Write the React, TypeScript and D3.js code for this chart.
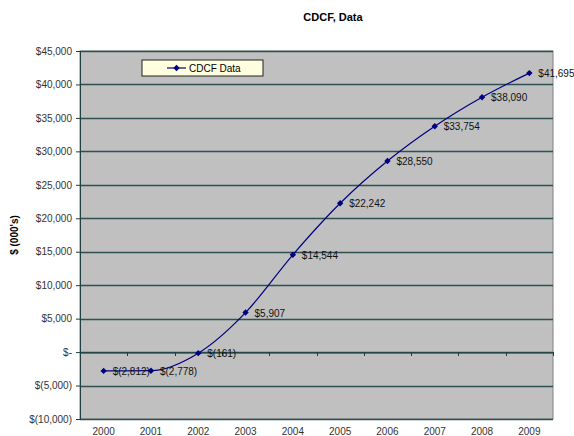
import React, { useEffect, useRef } from "react";
import * as d3 from "d3";

const years = ["2000", "2001", "2002", "2003", "2004", "2005", "2006", "2007", "2008", "2009"];
const cdcf = [-2812, -2778, -161, 5907, 14544, 22242, 28550, 33754, 38090, 41695];
const yTicks = [-10000, -5000, 0, 5000, 10000, 15000, 20000, 25000, 30000, 35000, 40000, 45000];

const money = (v: number) => {
  if (v === 0) return "$-";
  const s = d3.format(",")(Math.abs(v));
  return v < 0 ? `$(${s})` : `$${s}`;
};

const diamondPath = (r: number) => `M0,${-r}L${r},0L0,${r}L${-r},0Z`;

export default function App() {
  const ref = useRef<SVGSVGElement | null>(null);

  useEffect(() => {
    const width = 574, height = 436;
    const margin = { top: 51, right: 21, bottom: 17, left: 80 };
    const w = width - margin.left - margin.right;
    const h = height - margin.top - margin.bottom;

    const svg = d3.select(ref.current);
    svg.selectAll("*").remove();
    svg.attr("width", width).attr("height", height).style("font-family", "'Liberation Sans', Arial, sans-serif");

    svg.append("rect").attr("width", width).attr("height", height).attr("fill", "#fff");

    // title
    svg.append("text").attr("x", 333).attr("y", 21).attr("text-anchor", "middle")
      .attr("font-size", 11).attr("font-weight", "bold").attr("fill", "#000").text("CDCF, Data");

    // y axis title
    svg.append("text").attr("transform", `translate(18,${margin.top + h / 2}) rotate(-90)`)
      .attr("text-anchor", "middle").attr("font-size", 10).attr("font-weight", "bold").attr("fill", "#000")
      .text("$ (000's)");

    const g = svg.append("g").attr("transform", `translate(${margin.left},${margin.top})`);

    const x = d3.scaleBand().domain(years).range([0, w]);
    const y = d3.scaleLinear().domain([-10000, 45000]).range([h, 0]);

    // plot area
    g.append("rect").attr("width", w).attr("height", h).attr("fill", "#C0C0C0")
      .attr("stroke", "#808080").attr("stroke-width", 1);

    // gridlines
    g.selectAll(".grid").data(yTicks).enter().append("line")
      .attr("x1", 0).attr("x2", w).attr("y1", d => Math.round(y(d)) + 0.5).attr("y2", d => Math.round(y(d)) + 0.5)
      .attr("stroke", "#2F5050").attr("stroke-width", 1.3);

    // y axis
    const yAxis = g.append("g").call(d3.axisLeft(y).tickValues(yTicks).tickSize(4).tickPadding(4).tickFormat(d => money(+d)));
    yAxis.select(".domain").attr("stroke", "#1F3F3F");
    yAxis.selectAll(".tick line").attr("stroke", "#1F3F3F");
    yAxis.selectAll("text").attr("font-size", 10).attr("fill", "#333").attr("font-family", "'Liberation Sans', Arial, sans-serif");

    // x axis crosses at zero
    const xAxis = g.append("g").attr("transform", `translate(0,${Math.round(y(0)) + 0.5})`)
      .call(d3.axisBottom(x).tickSize(0).tickFormat(() => ""));
    xAxis.select(".domain").attr("stroke", "#1F3F3F");
    g.selectAll(".xtick").data(years).enter().append("line")
      .attr("x1", (d, i) => Math.round((i + 1) * x.step()) + 0.5).attr("x2", (d, i) => Math.round((i + 1) * x.step()) + 0.5)
      .attr("y1", Math.round(y(0))).attr("y2", Math.round(y(0)) + 4).attr("stroke", "#1F3F3F");

    // category labels at bottom
    g.selectAll(".xlab").data(years).enter().append("text")
      .attr("x", d => (x(d) as number) + x.bandwidth() / 2).attr("y", h + 16)
      .attr("text-anchor", "middle").attr("font-size", 10).attr("fill", "#333").text(d => d);

    const pts = years.map((yr, i) => ({ x: (x(yr) as number) + x.bandwidth() / 2, y: y(cdcf[i]), v: cdcf[i] }));

    const line = d3.line<any>().x(d => d.x).y(d => d.y).curve(d3.curveMonotoneX);
    g.append("path").datum(pts).attr("d", line as any).attr("fill", "none").attr("stroke", "#000080").attr("stroke-width", 1.2);

    g.selectAll(".pt").data(pts).enter().append("path")
      .attr("d", diamondPath(3.2)).attr("transform", d => `translate(${d.x},${d.y})`).attr("fill", "#000080");

    g.selectAll(".lbl").data(pts).enter().append("text")
      .attr("x", d => d.x + 9).attr("y", d => d.y + 4).attr("font-size", 10).attr("fill", "#111")
      .text(d => money(d.v));

    // legend
    const lg = svg.append("g").attr("transform", "translate(142,60)");
    lg.append("rect").attr("width", 121).attr("height", 16).attr("fill", "#FFFFE0").attr("stroke", "#222").attr("stroke-width", 1);
    lg.append("line").attr("x1", 25).attr("x2", 44).attr("y1", 8).attr("y2", 8).attr("stroke", "#000080").attr("stroke-width", 1.2);
    lg.append("path").attr("d", diamondPath(3.2)).attr("transform", "translate(34.5,8)").attr("fill", "#000080");
    lg.append("text").attr("x", 47).attr("y", 12).attr("font-size", 10).attr("fill", "#000").text("CDCF Data");
  }, []);

  return (
    <div style={{ position: "fixed", left: 0, top: 0 }}>
      <svg ref={ref} />
    </div>
  );
}
